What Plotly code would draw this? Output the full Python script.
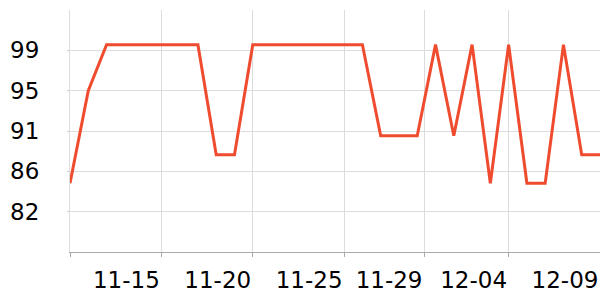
import plotly.graph_objects as go
import pandas as pd

dates = pd.date_range("2023-11-10", "2023-12-09", freq="D").strftime("%Y-%m-%d").tolist()
values = [85, 94.75, 99.6, 99.6, 99.6, 99.6, 99.6, 99.6, 88, 88,
          99.6, 99.6, 99.6, 99.6, 99.6, 99.6, 99.6, 90, 90, 90,
          99.6, 90, 99.6, 85, 99.6, 85, 85, 99.6, 88, 88]

x_tickvals = ["2023-11-10", "2023-11-15", "2023-11-20", "2023-11-25",
              "2023-11-29 09:00", "2023-12-04", "2023-12-09"]
x_ticktext = ["", "11-15", "11-20", "11-25", "11-29", "12-04", "12-09"]

y_tickvals = [82, 86.25, 90.5, 94.75, 99]
y_ticktext = ["82", "86", "91", "95", "99"]

fig = go.Figure()
fig.add_trace(go.Scatter(
    x=dates, y=values, mode="lines",
    line=dict(color="#EF4C2F", width=3),
    hoverinfo="skip",
))

fig.update_layout(
    width=600, height=300,
    margin=dict(l=70, r=0, t=10, b=48),
    paper_bgcolor="white", plot_bgcolor="white",
    showlegend=False,
    font=dict(family="DejaVu Sans", size=23, color="#000000"),
)
fig.update_xaxes(
    type="date",
    range=["2023-11-10", "2023-12-09"],
    tickvals=x_tickvals, ticktext=x_ticktext,
    showgrid=True, gridcolor="#dcdcdc", gridwidth=1,
    showline=True, linecolor="#aaaaaa", linewidth=1,
    ticks="outside", ticklen=4, tickcolor="#aaaaaa",
    ticklabelshift=-35, ticklabelstandoff=3,
    zeroline=False,
)
fig.update_yaxes(
    range=[77.75, 103.25],
    tickvals=y_tickvals, ticktext=y_ticktext,
    showgrid=True, gridcolor="#dcdcdc", gridwidth=1,
    showline=True, linecolor="#dcdcdc", linewidth=1,
    ticks="outside", ticklen=2, tickcolor="#cccccc",
    ticklabelstandoff=23,
    zeroline=False,
)

fig.write_html("out.html")
